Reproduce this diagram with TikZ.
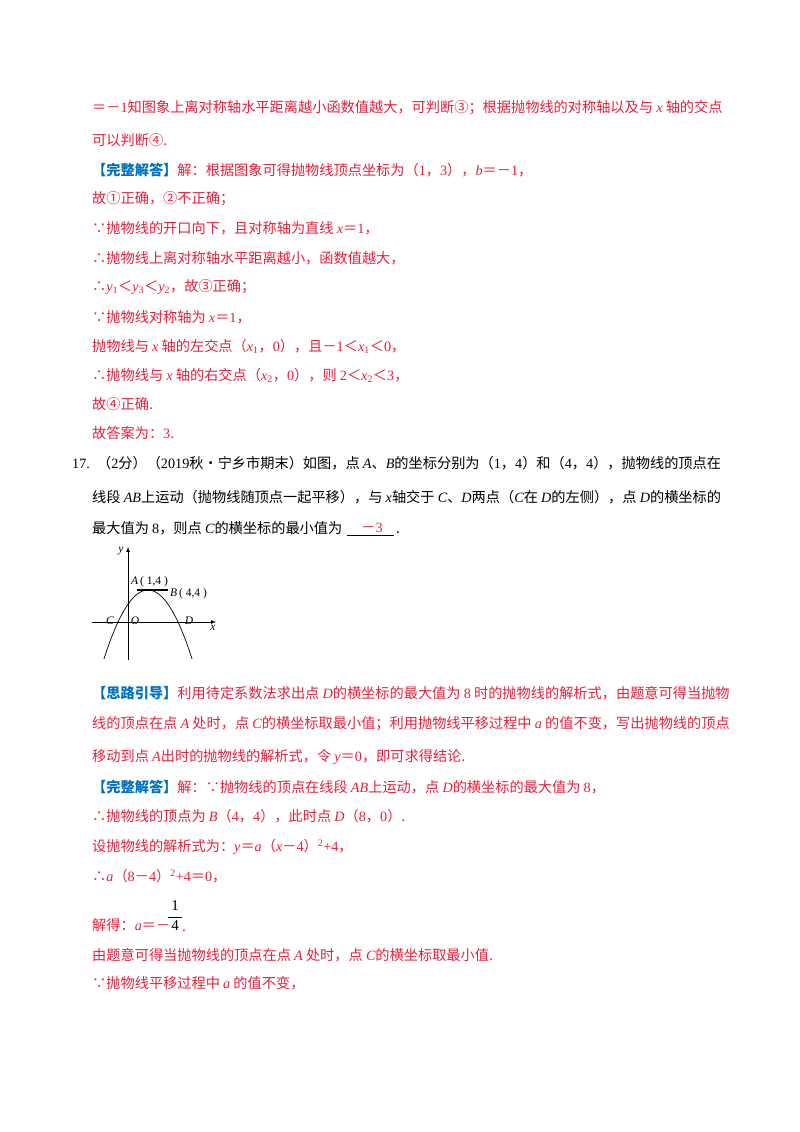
\documentclass[tikz,border=0pt]{standalone}
\usepackage{fontspec}
\setmainfont{Noto Sans CJK SC}
\newfontfamily\lat{Liberation Serif}
\newcommand{\vr}[1]{{\lat\itshape #1}}
\newcommand{\nm}[1]{{\lat #1}}
\definecolor{tred}{RGB}{232,30,58}
\definecolor{tblue}{RGB}{0,112,192}
\newcommand{\hd}[1]{\textcolor{tblue}{\bfseries #1}}
\begin{document}
\begin{tikzpicture}[x=1pt,y=-1pt,
  t/.style={anchor=west,inner sep=0pt,font=\fontsize{14.2}{16}\selectfont,text=tred},
  k/.style={t,text=black},
  lab/.style={inner sep=0pt,font=\fontsize{11.5}{13}\selectfont\lat\itshape}]
\useasboundingbox (0,0) rectangle (800,1132);
\node[t] (l1) at (92,108) {＝－\nm{1}知图象上离对称轴水平距离越小函数值越大，可判断③；根据抛物线的对称轴以及与 \vr{x} 轴的交点};
\node[t] (l2) at (92,140) {可以判断④.};
\node[t] (l3) at (92,170) {\hd{【完整解答】}解：根据图象可得抛物线顶点坐标为（\nm{1}，\nm{3}），\vr{b}＝－\nm{1}，};
\node[t] (l4) at (92,199) {故①正确，②不正确；};
\node[t] (l5) at (92,228) {∵抛物线的开口向下，且对称轴为直线 \vr{x}＝\nm{1}，};
\node[t] (l6) at (92,258) {∴抛物线上离对称轴水平距离越小，函数值越大，};
\node[t] (l7) at (92,287) {∴\vr{y}\textsubscript{\nm{1}}＜\vr{y}\textsubscript{\nm{3}}＜\vr{y}\textsubscript{\nm{2}}，故③正确；};
\node[t] (l8) at (92,317) {∵抛物线对称轴为 \vr{x}＝\nm{1}，};
\node[t] (l9) at (92,346) {抛物线与 \vr{x} 轴的左交点（\vr{x}\textsubscript{\nm{1}}，\nm{0}），且－\nm{1}＜\vr{x}\textsubscript{\nm{1}}＜\nm{0}，};
\node[t] (l10) at (92,375) {∴抛物线与 \vr{x} 轴的右交点（\vr{x}\textsubscript{\nm{2}}，\nm{0}），则 \nm{2}＜\vr{x}\textsubscript{\nm{2}}＜\nm{3}，};
\node[t] (l11) at (92,404) {故④正确.};
\node[t] (l12) at (92,433) {故答案为：\nm{3}.};
\node[k] (q1) at (72,463) {\nm{17.}\enspace（\nm{2}分）（\nm{2019}秋•宁乡市期末）如图，点 \vr{A}、\vr{B}的坐标分别为（\nm{1}，\nm{4}）和（\nm{4}，\nm{4}），抛物线的顶点在};
\node[k] (q2) at (92,497) {线段 \vr{AB}上运动（抛物线随顶点一起平移），与 \vr{x}轴交于 \vr{C}、\vr{D}两点（\vr{C}在 \vr{D}的左侧），点 \vr{D}的横坐标的};
\node[k] (q3) at (92,528) {最大值为 \nm{8}，则点 \vr{C}的横坐标的最小值为};
\node[t,anchor=center] (ans) at (372,528) {－\nm{3}};
\node[k,anchor=base west] (dot) at (396,533) {.};
\draw[black,line width=0.6pt] (347,535) -- (394,535);
% figure
\coordinate (xs) at (92,622); \coordinate (xe) at (216,622);
\coordinate (ys) at (128,660); \coordinate (ye) at (128,547);
\draw[-latex,line width=0.7pt] (xs) -- (xe);
\draw[-latex,line width=0.7pt] (ys) -- (ye);
\draw[line width=0.7pt,domain=-44:44,samples=60,smooth] plot ({148+\x},{590+32*(\x/30)^2});
\draw[line width=1.6pt] (137,590) -- (168,590);
\node[lab] (ly) at (121,551) {y};
\node[lab] (lx) at (213,628) {x};
\node[lab] (lO) at (135,621) {O};
\node[lab] (lC) at (110,621) {C};
\node[lab] (lD) at (189,621) {D};
\node[lab,anchor=west] (lA) at (131,582) {A\upshape\,( 1,4 )};
\node[lab,anchor=west] (lB) at (170,594) {B\upshape\,( 4,4 )};
% analysis
\node[t] (m1) at (92,693) {\hd{【思路引导】}利用待定系数法求出点 \vr{D}的横坐标的最大值为 \nm{8} 时的抛物线的解析式，由题意可得当抛物};
\node[t] (m2) at (92,724) {线的顶点在点 \vr{A} 处时，点 \vr{C}的横坐标取最小值；利用抛物线平移过程中 \vr{a} 的值不变，写出抛物线的顶点};
\node[t] (m3) at (92,757) {移动到点 \vr{A}出时的抛物线的解析式，令 \vr{y}＝\nm{0}，即可求得结论.};
\node[t] (m4) at (92,787) {\hd{【完整解答】}解：∵抛物线的顶点在线段 \vr{AB}上运动，点 \vr{D}的横坐标的最大值为 \nm{8}，};
\node[t] (m5) at (92,816) {∴抛物线的顶点为 \vr{B}（\nm{4}，\nm{4}），此时点 \vr{D}（\nm{8}，\nm{0}）.};
\node[t] (m6) at (92,847) {设抛物线的解析式为：\vr{y}＝\vr{a}（\vr{x}－\nm{4}）\textsuperscript{\nm{2}}\nm{+4}，};
\node[t] (m7) at (92,876) {∴\vr{a}（\nm{8}－\nm{4}）\textsuperscript{\nm{2}}\nm{+4}＝\nm{0}，};
\node[t] (m8) at (92,925) {解得：\vr{a}＝－};
\node[inner sep=0pt,font=\fontsize{15}{16}\selectfont\lat] (f1) at (175,906) {1};
\draw[line width=0.8pt] (168,917) -- (182,917);
\node[inner sep=0pt,font=\fontsize{15}{16}\selectfont\lat] (f2) at (175,926) {4};
\node[t,anchor=base west] (fd) at (182,931) {.};
\node[t] (m9) at (92,955) {由题意可得当抛物线的顶点在点 \vr{A} 处时，点 \vr{C}的横坐标取最小值.};
\node[t] (m10) at (92,983) {∵抛物线平移过程中 \vr{a} 的值不变，};
\end{tikzpicture}
\end{document}
